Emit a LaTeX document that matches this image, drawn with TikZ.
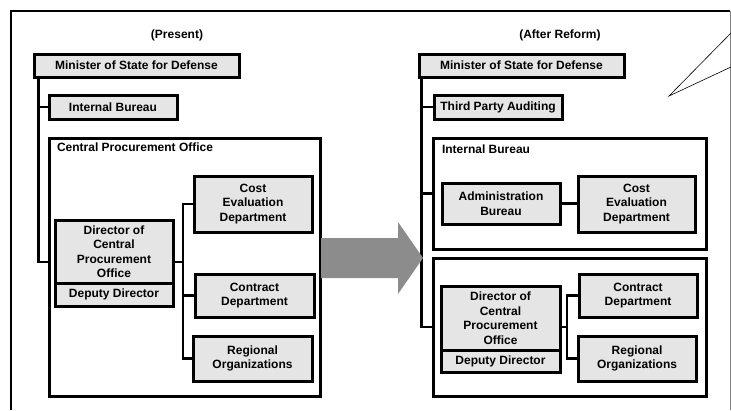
\documentclass[tikz,border=0pt]{standalone}
\usepackage{fontspec}
\setmainfont{Liberation Sans}

\begin{document}
\begin{tikzpicture}[x=1pt, y=-1pt,
		every node/.style={font=\fontsize{12}{14.5}\selectfont\bfseries},
		unit/.style={draw, line width=3pt, fill=gray!20, align=center, inner sep=0pt},
		group/.style={draw, line width=3pt, inner sep=0pt},
		link/.style={line width=2.2pt},
		bigarrow/.style={fill=gray!90}]
			\useasboundingbox (0, 0) rectangle (731, 410);

			\draw[line width=2.6pt] (11, 410) -- (11, 11) -- (730, 11);
			\draw[gray, line width=0.8pt] (730.5, 11) -- (730.5, 410);
			\coordinate (calloutA) at (731, 33);
			\coordinate (calloutB) at (731, 67);
			\coordinate (calloutTip) at (669, 96);
			\draw[line width=0.6pt] (calloutA) -- (calloutTip) -- (calloutB);

			\draw (177, 35) 	node 	(present) 	{(Present)};
			\draw (560, 35) 	node 	(reform) 	{(After Reform)};

			\draw (136.5, 65.5) 	node[unit, minimum width=205, minimum height=23] 	(minL) 		{Minister of State for Defense};
			\draw (113, 107) 	node[unit, minimum width=128, minimum height=24] 	(intL) 		{Internal Bureau};
			\draw (184.5, 267) 	node[group, minimum width=271, minimum height=258] 	(cpo) 		{};
			\draw ([xshift=6pt, yshift=-11pt]cpo.north west) node[anchor=west] 	(cpoLabel) 	{Central Procurement Office};
			\draw (253, 204) 	node[unit, minimum width=118, minimum height=56] 	(costL) 	{Cost\\Evaluation\\Department};
			\draw (114, 251.5) 	node[unit, minimum width=118, minimum height=63] 	(dirL) 		{Director of\\Central\\Procurement\\Office};
			\draw (114, 294.5) 	node[unit, minimum width=118, minimum height=23] 	(depL) 		{Deputy Director};
			\draw (254.5, 295.5) 	node[unit, minimum width=119, minimum height=43] 	(conL) 		{Contract\\Department};
			\draw (252.5, 358.5) 	node[unit, minimum width=119, minimum height=45] 	(regL) 		{Regional\\Organizations};

			\draw (521.5, 65.5) 	node[unit, minimum width=205, minimum height=23] 	(minR) 		{Minister of State for Defense};
			\draw (498, 107) 	node[unit, minimum width=128, minimum height=24] 	(audR) 		{Third Party Auditing};
			\draw (569.5, 193.5) 	node[group, minimum width=273, minimum height=111] 	(ibR) 		{};
			\draw ([xshift=7pt, yshift=-13pt]ibR.north west) node[anchor=west] 	(ibLabel) 	{Internal Bureau};
			\draw (501, 203.5) 	node[unit, minimum width=118, minimum height=41] 	(admR) 		{Administration\\Bureau};
			\draw (636.5, 204) 	node[unit, minimum width=117, minimum height=56] 	(costR) 	{Cost\\Evaluation\\Department};
			\draw (569.5, 327) 	node[group, minimum width=273, minimum height=138] 	(lowR) 		{};
			\draw (500.5, 318) 	node[unit, minimum width=119, minimum height=64] 	(dirR) 		{Director of\\Central\\Procurement\\Office};
			\draw (500.5, 361) 	node[unit, minimum width=119, minimum height=22] 	(depR) 		{Deputy Director};
			\draw (638, 295.5) 	node[unit, minimum width=118, minimum height=43] 	(conR) 		{Contract\\Department};
			\draw (637, 358.5) 	node[unit, minimum width=118, minimum height=45] 	(regR) 		{Regional\\Organizations};

			\coordinate (trunkL) at ([xshift=6pt]minL.south west);
			\coordinate (trunkR) at ([xshift=4pt]minR.south west);
			\coordinate (forkL) at (183, 262);
			\coordinate (forkR) at (567, 327);

			\draw[link] (trunkL) |- ([yshift=5pt]cpo.west);
			\draw[link] (intL.west) -- (intL.west -| trunkL);
			\draw[link] ([yshift=-10.5pt]dirL.east) -- (forkL);
			\draw[link] (costL.west) -| (forkL) |- (regL.west);
			\draw[link] (conL.west) -- (conL.west -| forkL);

			\draw[link] (trunkR) |- (lowR.west);
			\draw[link] (audR.west) -- (audR.west -| trunkR);
			\draw[link] (ibR.west) -- (ibR.west -| trunkR);
			\draw[link] (admR.east) -- (admR.east -| costR.west);
			\draw[link] ([yshift=-9pt]dirR.east) -- (forkR);
			\draw[link] (conR.west) -| (forkR) |- (regR.west);

			\fill[bigarrow] (321, 238) -- (398, 238) -- (398, 222) -- (423, 258) -- (398, 294) -- (398, 278) -- (321, 278) -- cycle;
		\end{tikzpicture}
\end{document}
